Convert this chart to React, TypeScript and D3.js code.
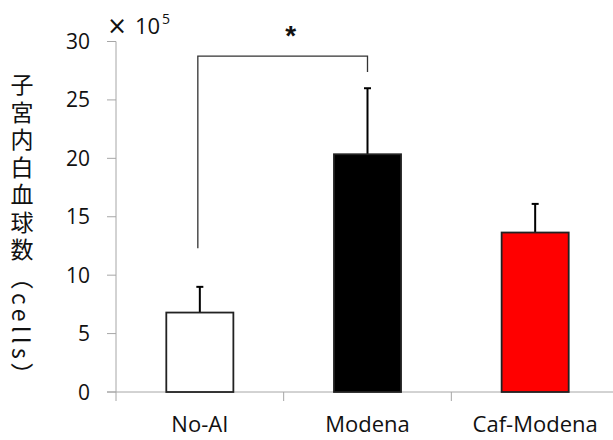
import React, { useEffect, useRef } from 'react';
import * as d3 from 'd3';

// data
const categories = ['No-AI', 'Modena', 'Caf-Modena'];
const means = [6.8, 20.35, 13.65];
const errors = [2.2, 5.65, 2.45];
const barColors = ['#ffffff', '#000000', '#ff0000'];
const yTicks = [0, 5, 10, 15, 20, 25, 30];

// significance bracket No-AI vs Modena
const bracketTop = 28.75;
const bracketEnds = [12.3, 27.4];

const W = 613;
const H = 440;

export default function App() {
  const svgRef = useRef<SVGSVGElement>(null);

  useEffect(() => {
    const svg = d3.select(svgRef.current);
    svg.selectAll('*').remove();

    const left = 116, right = 619, top = 41.5, bottom = 392;
    const axisColor = '#a6a6a6';
    const font = '"Open Sans", "Noto Sans", sans-serif';

    const y = d3.scaleLinear().domain([0, 30]).range([bottom, top]);
    const xAxisScale = d3.scaleBand<string>().domain(categories).range([left, right]).padding(0);
    const x = d3.scaleBand<string>().domain(categories).range([left, right])
      .paddingInner(0.6).paddingOuter(0.3);

    // y axis
    svg.append('line')
      .attr('x1', left).attr('x2', left)
      .attr('y1', top).attr('y2', bottom + 9)
      .attr('stroke', axisColor).attr('stroke-width', 1);
    svg.selectAll('.ytick')
      .data(yTicks)
      .join('line')
        .attr('class', 'ytick')
        .attr('x1', left - 9).attr('x2', left)
        .attr('y1', d => y(d)).attr('y2', d => y(d))
        .attr('stroke', axisColor).attr('stroke-width', 1);
    svg.selectAll('.ylab')
      .data(yTicks)
      .join('text')
        .attr('class', 'ylab')
        .attr('x', 90).attr('y', d => y(d))
        .attr('dy', '0.36em')
        .attr('text-anchor', 'end')
        .style('font-family', font)
        .style('font-size', '21px')
        .attr('fill', '#111')
        .text(d => d);

    // x axis
    svg.append('line')
      .attr('x1', left - 9).attr('x2', W)
      .attr('y1', bottom).attr('y2', bottom)
      .attr('stroke', axisColor).attr('stroke-width', 1);
    categories.slice(1).forEach(c => {
      const xp = xAxisScale(c)!;
      svg.append('line')
        .attr('x1', xp).attr('x2', xp)
        .attr('y1', bottom).attr('y2', bottom + 9)
        .attr('stroke', axisColor).attr('stroke-width', 1);
    });
    svg.selectAll('.xlab')
      .data(categories)
      .join('text')
        .attr('class', 'xlab')
        .attr('x', d => xAxisScale(d)! + xAxisScale.bandwidth() / 2)
        .attr('y', 432)
        .attr('text-anchor', 'middle')
        .style('font-family', font)
        .style('font-size', '22px')
        .attr('fill', '#111')
        .text(d => d);

    // error bars
    categories.forEach((c, i) => {
      const cx = x(c)! + x.bandwidth() / 2;
      svg.append('line')
        .attr('x1', cx).attr('x2', cx)
        .attr('y1', y(means[i])).attr('y2', y(means[i] + errors[i]))
        .attr('stroke', '#000').attr('stroke-width', 2);
      svg.append('line')
        .attr('x1', cx - 3.5).attr('x2', cx + 3.5)
        .attr('y1', y(means[i] + errors[i])).attr('y2', y(means[i] + errors[i]))
        .attr('stroke', '#000').attr('stroke-width', 2);
    });

    // bars
    svg.selectAll('.bar')
      .data(categories)
      .join('rect')
        .attr('class', 'bar')
        .attr('x', d => x(d)!)
        .attr('width', x.bandwidth())
        .attr('y', (d, i) => y(means[i]))
        .attr('height', (d, i) => bottom - y(means[i]))
        .attr('fill', (d, i) => barColors[i])
        .attr('stroke', '#222')
        .attr('stroke-width', 1.8);

    // bracket
    const bx1 = x('No-AI')! + x.bandwidth() / 2 - 2;
    const bx2 = x('Modena')! + x.bandwidth() / 2;
    svg.append('path')
      .attr('d', `M${bx1},${y(bracketEnds[0])}V${y(bracketTop)}H${bx2}V${y(bracketEnds[1])}`)
      .attr('fill', 'none')
      .attr('stroke', '#333')
      .attr('stroke-width', 1.3);
    svg.append('text')
      .attr('x', (bx1 + bx2) / 2 + 8)
      .attr('y', 45)
      .attr('text-anchor', 'middle')
      .style('font-family', '"Liberation Sans", sans-serif')
      .style('font-size', '28px')
      .style('font-weight', 'bold')
      .attr('fill', '#111')
      .text('*');

    // x10^5
    svg.append('text')
      .attr('x', 107).attr('y', 34)
      .style('font-family', '"DejaVu Sans", sans-serif')
      .style('font-size', '24px')
      .attr('fill', '#111')
      .text('×');
    svg.append('text')
      .attr('x', 135).attr('y', 34)
      .style('font-family', font)
      .style('font-size', '22px')
      .attr('fill', '#111')
      .text('10');
    svg.append('text')
      .attr('x', 162).attr('y', 24)
      .style('font-family', font)
      .style('font-size', '14px')
      .attr('fill', '#111')
      .text('5');

    // y label vertical
    svg.append('text')
      .attr('transform', 'translate(22,73)')
      .style('writing-mode', 'vertical-rl')
      .style('font-family', '"Noto Sans CJK JP", sans-serif')
      .style('font-size', '23px')
      .style('letter-spacing', '4.5px')
      .attr('fill', '#111')
      .text('子宮内白血球数（cells）');
  }, []);

  return (
    <svg ref={svgRef} width={W} height={H}
      style={{ position: 'absolute', left: 0, top: 0, background: '#fff' }} />
  );
}
